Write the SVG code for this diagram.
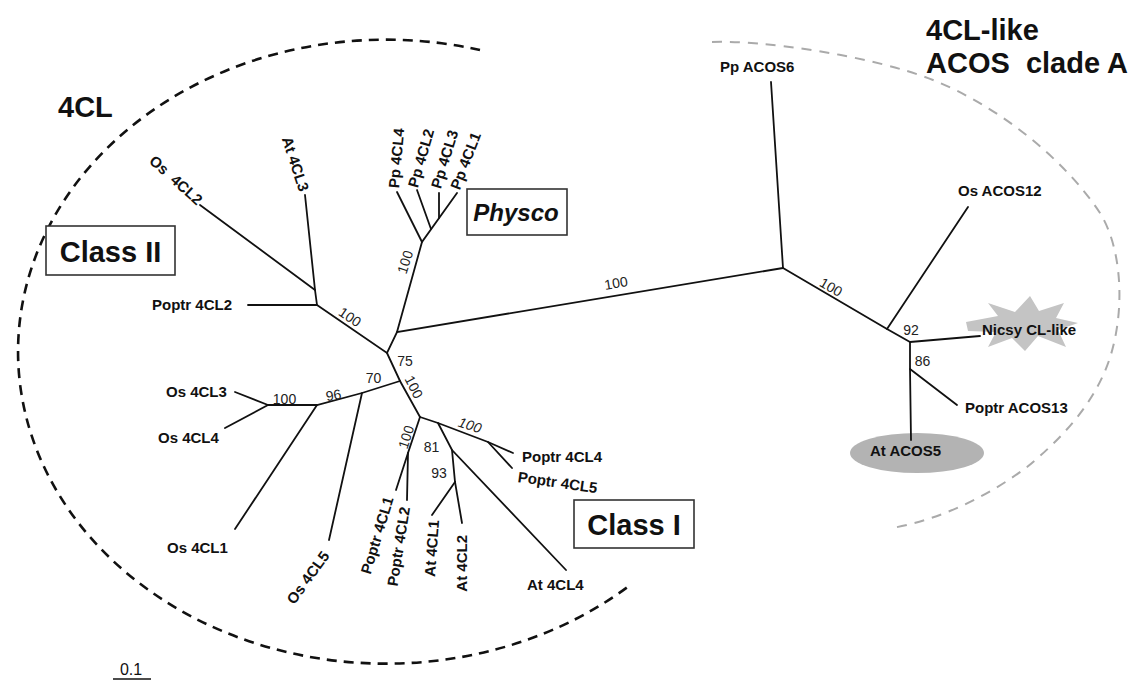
<svg xmlns="http://www.w3.org/2000/svg" width="1134" height="680" viewBox="0 0 1134 680">
  <style>
    text { font-family: "Liberation Sans", Arial, sans-serif; fill: #111; }
    .lf { font-size: 15px; font-weight: bold; }
    .bs { font-size: 14px; fill: #222; }
    .bsi { font-size: 14px; fill: #222; font-style: italic; }
    .title { font-size: 29px; font-weight: bold; }
    .cls { font-size: 29px; font-weight: bold; }
    .cls-it { font-size: 24px; font-weight: bold; font-style: italic; }
    .br { stroke: #111; stroke-width: 1.8; fill: none; stroke-linecap: round; }
    .box { fill: #fff; stroke: #333; stroke-width: 1.6; }
    .clade4cl { fill: none; stroke: #111; stroke-width: 2.6; stroke-dasharray: 10 7; }
    .cladeacos { fill: none; stroke: #aaa; stroke-width: 2; stroke-dasharray: 10 8; }
  </style>

  <!-- clade outlines -->
  <g id="clade-outlines">
    <path class="clade4cl" d="M 480 50 A 368 312 0 1 0 629 586"/>
    <path class="cladeacos" d="M712,42 C760,40 870,55 933,80 C1000,107 1065,160 1100,213 C1120,245 1125,300 1113,347 C1100,400 1060,440 1027,467 C990,495 940,520 892,528"/>
  </g>

  <!-- highlight shapes behind labels -->
  <g id="highlights">
    <ellipse cx="917" cy="453" rx="67" ry="20" fill="#b3b3b3"/>
    <polygon fill="#c4c4c4" points="966,322 998,316 988,303 1015,312 1030,296 1039,311 1064,303 1056,318 1078,323 1058,330 1066,347 1038,336 1025,351 1012,338 988,347 996,332 968,331"/>
  </g>

  <!-- branches -->
  <g id="connectors">
    <!-- backbone -->
    <polyline class="br" points="317,305 387,353 397,332 783,268"/>
    <polyline class="br" points="387,353 400,381 420,417"/>
    <!-- class II -->
    <polyline class="br" points="248,305 317,305 315,290 305,195"/>
    <line class="br" x1="315" y1="290" x2="200" y2="205"/>
    <!-- Physcomitrella -->
    <polyline class="br" points="397,332 422,242 457,193"/>
    <line class="br" x1="422" y1="242" x2="397" y2="192"/>
    <line class="br" x1="431" y1="229" x2="417" y2="190"/>
    <line class="br" x1="439" y1="218" x2="439" y2="193"/>
    <!-- rice group -->
    <polyline class="br" points="400,381 362,393 317,405 268,405"/>
    <line class="br" x1="362" y1="393" x2="329" y2="540"/>
    <line class="br" x1="317" y1="405" x2="235" y2="529"/>
    <line class="br" x1="268" y1="405" x2="235" y2="392"/>
    <line class="br" x1="268" y1="405" x2="225" y2="428"/>
    <!-- class I -->
    <polyline class="br" points="420,417 408,453 407,500"/>
    <line class="br" x1="408" y1="453" x2="396" y2="490"/>
    <polyline class="br" points="420,417 438,423 488,442 513,453"/>
    <line class="br" x1="488" y1="442" x2="512" y2="468"/>
    <polyline class="br" points="438,423 452,450 566,570"/>
    <polyline class="br" points="452,450 455,482 462,523"/>
    <line class="br" x1="455" y1="482" x2="432" y2="515"/>
    <!-- ACOS clade -->
    <line class="br" x1="783" y1="268" x2="771" y2="82"/>
    <polyline class="br" points="783,268 887,329 910,342 910,369 911,440"/>
    <line class="br" x1="887" y1="329" x2="968" y2="207"/>
    <line class="br" x1="910" y1="342" x2="980" y2="336"/>
    <line class="br" x1="910" y1="369" x2="957" y2="405"/>
  </g>

  <!-- bootstrap support values -->
  <g id="support">
    <text class="bs" text-anchor="middle" transform="translate(350 317) rotate(34)" y="5">100</text>
    <text class="bs" text-anchor="middle" transform="translate(405 262) rotate(-72)" y="5">100</text>
    <text class="bs" text-anchor="middle" transform="translate(616 283) rotate(-9.6)" y="5">100</text>
    <text class="bs" text-anchor="middle" transform="translate(831 287) rotate(30)" y="5">100</text>
    <text class="bs" text-anchor="middle" x="911" y="335">92</text>
    <text class="bs" text-anchor="middle" x="922.5" y="366">86</text>
    <text class="bs" text-anchor="middle" x="405" y="366">75</text>
    <text class="bs" text-anchor="middle" x="373.5" y="383">70</text>
    <text class="bs" text-anchor="middle" transform="translate(333.5 395) rotate(-10)" y="5">96</text>
    <text class="bs" text-anchor="middle" x="284.5" y="404">100</text>
    <text class="bs" text-anchor="middle" transform="translate(414 387) rotate(63)" y="5">100</text>
    <text class="bs" text-anchor="middle" transform="translate(406 437) rotate(-72)" y="5">100</text>
    <text class="bsi" text-anchor="middle" transform="translate(470 425) rotate(18)" y="5">100</text>
    <text class="bs" text-anchor="middle" x="431.5" y="452">81</text>
    <text class="bs" text-anchor="middle" x="439" y="478">93</text>
  </g>

  <!-- clade titles and class boxes -->
  <g id="title-4cl"><text class="title" x="58" y="117">4CL</text></g>
  <g id="title-acos">
    <text class="title" x="926" y="40">4CL-like</text>
    <text class="title" x="926" y="73" xml:space="preserve">ACOS  clade A</text>
  </g>
  <g id="box-class2">
    <rect class="box" x="46" y="226" width="129" height="49"/>
    <text class="cls" text-anchor="middle" x="110.5" y="262">Class II</text>
  </g>
  <g id="box-class1">
    <rect class="box" x="574" y="500" width="120" height="48"/>
    <text class="cls" text-anchor="middle" x="634" y="535">Class I</text>
  </g>
  <g id="box-physco">
    <rect class="box" x="467" y="189" width="100" height="46"/>
    <text class="cls-it" text-anchor="middle" x="516" y="221">Physco</text>
  </g>

  <!-- leaf labels -->
  <g id="leaf-os4cl2"><text class="lf" text-anchor="end" transform="translate(200 202) rotate(42)" y="5" xml:space="preserve">Os  4CL2</text></g>
  <g id="leaf-at4cl3"><text class="lf" text-anchor="end" transform="translate(304 191) rotate(72)" y="5">At 4CL3</text></g>
  <g id="leaf-poptr4cl2-ii"><text class="lf" x="152" y="310">Poptr 4CL2</text></g>
  <g id="leaf-pp4cl4"><text class="lf" transform="translate(394 188) rotate(-85)" y="5">Pp 4CL4</text></g>
  <g id="leaf-pp4cl2"><text class="lf" transform="translate(413 187) rotate(-74)" y="5">Pp 4CL2</text></g>
  <g id="leaf-pp4cl3"><text class="lf" transform="translate(436 188) rotate(-73)" y="5">Pp 4CL3</text></g>
  <g id="leaf-pp4cl1"><text class="lf" transform="translate(455 189) rotate(-69)" y="5">Pp 4CL1</text></g>
  <g id="leaf-os4cl3"><text class="lf" x="166" y="397">Os 4CL3</text></g>
  <g id="leaf-os4cl4"><text class="lf" x="158" y="443">Os 4CL4</text></g>
  <g id="leaf-os4cl1"><text class="lf" x="167" y="553">Os 4CL1</text></g>
  <g id="leaf-os4cl5"><text class="lf" text-anchor="end" transform="translate(326 553) rotate(-54)" y="5">Os 4CL5</text></g>
  <g id="leaf-poptr4cl1"><text class="lf" text-anchor="end" transform="translate(389 497) rotate(-73)" y="5">Poptr 4CL1</text></g>
  <g id="leaf-poptr4cl2"><text class="lf" text-anchor="end" transform="translate(405 507) rotate(-81)" y="5">Poptr 4CL2</text></g>
  <g id="leaf-at4cl1"><text class="lf" text-anchor="end" transform="translate(434 520) rotate(-86)" y="5">At 4CL1</text></g>
  <g id="leaf-at4cl2"><text class="lf" text-anchor="end" transform="translate(462 535) rotate(-90)" y="5">At 4CL2</text></g>
  <g id="leaf-poptr4cl4"><text class="lf" x="522" y="462">Poptr 4CL4</text></g>
  <g id="leaf-poptr4cl5"><text class="lf" transform="translate(518 477) rotate(8)" y="5">Poptr 4CL5</text></g>
  <g id="leaf-at4cl4"><text class="lf" x="527" y="590">At 4CL4</text></g>
  <g id="leaf-ppacos6"><text class="lf" x="720" y="72">Pp ACOS6</text></g>
  <g id="leaf-osacos12"><text class="lf" x="958" y="196">Os ACOS12</text></g>
  <g id="leaf-nicsy"><text class="lf" x="982" y="335">Nicsy CL-like</text></g>
  <g id="leaf-poptracos13"><text class="lf" x="965" y="413">Poptr ACOS13</text></g>
  <g id="leaf-atacos5"><text class="lf" x="870" y="456">At ACOS5</text></g>

  <!-- scale bar -->
  <g id="scale-bar">
    <text text-anchor="middle" x="131" y="675" font-size="16">0.1</text>
    <line x1="113" y1="679" x2="151" y2="679" stroke="#111" stroke-width="1.5"/>
  </g>
</svg>
